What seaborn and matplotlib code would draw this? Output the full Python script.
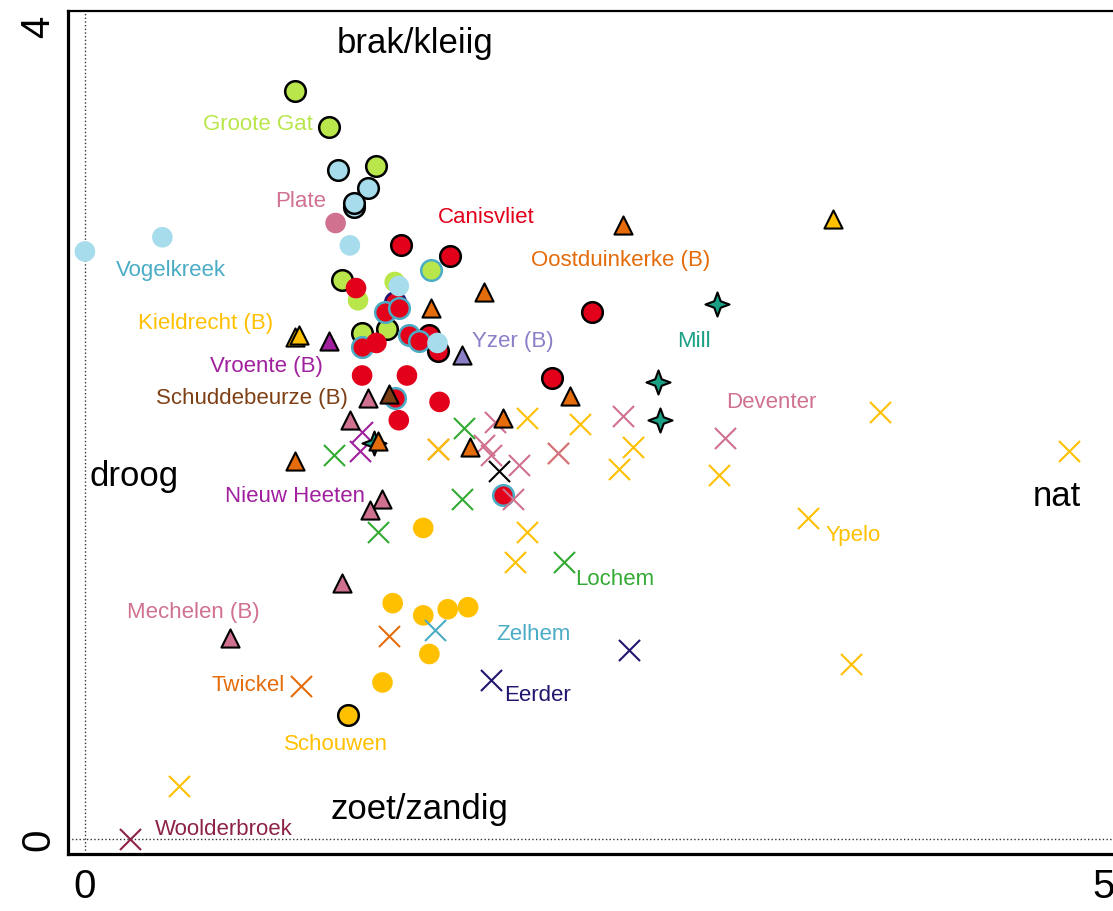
import matplotlib
matplotlib.use("Agg")
import matplotlib.pyplot as plt
from matplotlib.path import Path
import seaborn as sns
import pandas as pd

# --- data (x: droog -> nat, y: zoet/zandig -> brak/kleiig) ---
lime_plain_x = [1.34, 1.52]
lime_plain_y = [2.65, 2.74]
lime_black_x = [1.03, 1.20, 1.43, 1.26, 1.36, 1.48]
lime_black_y = [3.68, 3.50, 3.31, 2.75, 2.49, 2.51]
lime_blue_x = [1.70]
lime_blue_y = [2.80]

lblue_black_x = [1.24, 1.39, 1.32, 1.32]
lblue_black_y = [3.29, 3.20, 3.11, 3.13]
lblue_plain_x = [0.00, 0.38, 1.30, 1.54, 1.73]
lblue_plain_y = [2.89, 2.96, 2.92, 2.72, 2.44]

plate_x = [1.23]
plate_y = [3.03]

red_plain_x = [1.33, 1.43, 1.36, 1.58, 1.74, 1.54]
red_plain_y = [2.71, 2.44, 2.28, 2.28, 2.15, 2.06]
red_blue_x = [1.47, 1.54, 1.36, 1.59, 1.64, 1.52, 2.05]
red_blue_y = [2.59, 2.61, 2.42, 2.48, 2.45, 2.17, 1.69]
red_black_x = [1.55, 1.79, 2.49, 2.29, 1.69, 1.73]
red_black_y = [2.92, 2.87, 2.59, 2.27, 2.48, 2.40]
red_navy_x = [1.52]
red_navy_y = [2.64]

schouwen_plain_x = [1.66, 1.51, 1.66, 1.78, 1.88, 1.69, 1.46]
schouwen_plain_y = [1.53, 1.16, 1.10, 1.13, 1.14, 0.91, 0.77]
schouwen_black_x = [1.29]
schouwen_black_y = [0.61]

pink_x_x = [1.73, 2.64, 3.14, 2.01, 1.96, 1.99, 2.13, 2.10]
pink_x_y = [1.92, 2.08, 1.97, 2.05, 1.94, 1.89, 1.84, 1.67]
yellow_x_x = [3.90, 4.83, 3.55, 3.76, 0.46, 2.17, 2.43, 1.73, 2.32, 2.69, 2.62, 3.11, 2.17, 2.11]
yellow_x_y = [2.10, 1.91, 1.58, 0.86, 0.26, 2.07, 2.04, 1.92, 1.90, 1.93, 1.82, 1.79, 1.51, 1.36]
pink_x2_x = [2.32]
pink_x2_y = [1.90]
green_x_x = [1.86, 1.22, 1.85, 1.44, 2.35]
green_x_y = [2.02, 1.89, 1.67, 1.51, 1.36]
purple_x_x = [1.36, 1.35]
purple_x_y = [2.00, 1.91]
black_x_x = [2.03]
black_x_y = [1.81]
navy_x_x = [1.99, 2.67]
navy_x_y = [0.78, 0.93]
zelhem_x_x = [1.72]
zelhem_x_y = [1.03]
twickel_x_x = [1.06, 1.49]
twickel_x_y = [0.75, 1.00]
woolder_x_x = [0.22]
woolder_x_y = [0.00]

mill_x = [3.10, 2.81, 2.82, 1.42]
mill_y = [2.63, 2.25, 2.06, 1.95]

orange_tri_x = [2.64, 1.96, 1.70, 2.38, 2.05, 1.89, 1.44, 1.03]
orange_tri_y = [3.02, 2.69, 2.61, 2.18, 2.07, 1.93, 1.96, 1.86]
yellow_tri_x = [3.67, 1.03, 1.05]
yellow_tri_y = [3.05, 2.47, 2.48]
purple_tri_x = [1.20]
purple_tri_y = [2.45]
lavender_tri_x = [1.85]
lavender_tri_y = [2.38]
brown_tri_x = [1.49]
brown_tri_y = [2.19]
pink_tri_x = [1.39, 1.30, 1.46, 1.40, 1.26, 0.71]
pink_tri_y = [2.17, 2.06, 1.67, 1.62, 1.26, 0.99]

labels = ["Groote Gat", "Plate", "Canisvliet", "Vogelkreek", "Oostduinkerke (B)",
          "Kieldrecht (B)", "Mill", "Yzer (B)", "Vroente (B)", "Schuddebeurze (B)",
          "Deventer", "Nieuw Heeten", "Ypelo", "Lochem", "Mechelen (B)", "Zelhem",
          "Twickel", "Eerder", "Schouwen", "Woolderbroek"]
label_x = [0.85, 1.06, 1.97, 0.42, 2.63, 0.59, 2.99, 2.10, 0.89, 0.82,
           3.37, 1.03, 3.77, 2.60, 0.53, 2.20, 0.80, 2.22, 1.23, 0.68]
label_y = [3.52, 3.14, 3.06, 2.80, 2.85, 2.54, 2.45, 2.45, 2.33, 2.17,
           2.15, 1.69, 1.50, 1.28, 1.12, 1.01, 0.76, 0.71, 0.47, 0.05]

axis_words = ["brak/kleiig", "zoet/zandig", "droog", "nat"]
axis_word_x = [1.62, 1.64, 0.24, 4.77]
axis_word_y = [3.92, 0.15, 1.79, 1.69]

# --- colours ---
LIME = "#B9E64A"
LBLUE = "#A6DCEB"
BLUE_EDGE = "#4BACC6"
RED = "#E2001A"
YELLOW = "#FFC000"
ORANGE = "#E46C0A"
PINK = "#D0718F"
PURPLE = "#A0209E"
LAVENDER = "#8B7FC8"
BROWN = "#7F3F14"
TEAL = "#19A085"
GREEN = "#33AA33"
NAVY = "#20166E"
MAROON = "#8E2346"

label_colors = [LIME, PINK, RED, BLUE_EDGE, ORANGE, YELLOW, TEAL, LAVENDER, PURPLE, BROWN,
                PINK, PURPLE, YELLOW, GREEN, PINK, BLUE_EDGE, ORANGE, NAVY, YELLOW, MAROON]

sns.set_style("white")
plt.rcParams["font.family"] = ["Liberation Sans", "DejaVu Sans"]

fig = plt.figure(figsize=(11.13, 9.12), dpi=100)
ax = fig.add_axes([68 / 1113, 57 / 912, 1048 / 1113, 843 / 912])

star4 = Path.unit_regular_star(4, 0.38)

CIRC = 220
TRI = 170
XS = 230


def pts(xs, ys, color, marker="o", edge="none", s=CIRC, lw=1.8):
    df = pd.DataFrame({"x": xs, "y": ys})
    if marker == "x":
        sns.scatterplot(data=df, x="x", y="y", marker="x", color=color, s=s,
                        linewidth=lw, ax=ax, zorder=3)
    else:
        sns.scatterplot(data=df, x="x", y="y", marker=marker, color=color, s=s,
                        edgecolor=edge, linewidth=lw, ax=ax, zorder=3)


# circles
pts(lime_plain_x, lime_plain_y, LIME)
pts(lime_black_x, lime_black_y, LIME, edge="black")
pts(lime_blue_x, lime_blue_y, LIME, edge=BLUE_EDGE)
pts(lblue_black_x, lblue_black_y, LBLUE, edge="black")
pts(plate_x, plate_y, PINK)
pts(red_navy_x, red_navy_y, RED, edge=NAVY)
pts(red_black_x, red_black_y, RED, edge="black")
pts(red_blue_x, red_blue_y, RED, edge=BLUE_EDGE)
pts(red_plain_x, red_plain_y, RED)
pts(lblue_plain_x, lblue_plain_y, LBLUE)
pts(schouwen_plain_x, schouwen_plain_y, YELLOW)
pts(schouwen_black_x, schouwen_black_y, YELLOW, edge="black")

# crosses
pts(pink_x_x, pink_x_y, PINK, marker="x", s=XS, lw=1.5)
pts(yellow_x_x, yellow_x_y, YELLOW, marker="x", s=XS, lw=1.5)
pts(pink_x2_x, pink_x2_y, PINK, marker="x", s=XS, lw=1.5)
pts(green_x_x, green_x_y, GREEN, marker="x", s=XS, lw=1.5)
pts(purple_x_x, purple_x_y, PURPLE, marker="x", s=XS, lw=1.5)
pts(black_x_x, black_x_y, "black", marker="x", s=XS, lw=1.5)
pts(navy_x_x, navy_x_y, NAVY, marker="x", s=XS, lw=1.5)
pts(zelhem_x_x, zelhem_x_y, BLUE_EDGE, marker="x", s=XS, lw=1.5)
pts(twickel_x_x, twickel_x_y, ORANGE, marker="x", s=XS, lw=1.5)
pts(woolder_x_x, woolder_x_y, MAROON, marker="x", s=XS, lw=1.5)

# stars + triangles
pts(mill_x, mill_y, TEAL, marker=star4, edge="black", s=300, lw=1.5)
pts(orange_tri_x, orange_tri_y, ORANGE, marker="^", edge="black", s=TRI, lw=1.5)
pts(yellow_tri_x, yellow_tri_y, YELLOW, marker="^", edge="black", s=TRI, lw=1.5)
pts(purple_tri_x, purple_tri_y, PURPLE, marker="^", edge="black", s=TRI, lw=1.5)
pts(lavender_tri_x, lavender_tri_y, LAVENDER, marker="^", edge="black", s=TRI, lw=1.5)
pts(brown_tri_x, brown_tri_y, BROWN, marker="^", edge="black", s=TRI, lw=1.5)
pts(pink_tri_x, pink_tri_y, PINK, marker="^", edge="black", s=TRI, lw=1.5)

# site names
for t, x, y, c in zip(labels, label_x, label_y, label_colors):
    ax.text(x, y, t, color=c, fontsize=16, ha="center", va="center", zorder=4)

for t, x, y in zip(axis_words, axis_word_x, axis_word_y):
    ax.text(x, y, t, color="black", fontsize=25, ha="center", va="center", zorder=4)

# dotted zero lines
ax.axhline(0, color="#333333", ls=":", lw=1.0, zorder=1)
ax.axvline(0, color="#333333", ls=":", lw=1.0, zorder=1)

ax.set_xlim(-0.083, 5.059)
ax.set_ylim(-0.074, 4.073)
ax.set_xticks([0, 1, 2, 3, 4, 5])
ax.set_xticklabels(["0", "", "", "", "", "5"], fontsize=29)
ax.set_yticks([0, 1, 2, 3, 4])
ax.set_yticklabels(["0", "", "", "", "4"], fontsize=29, rotation=90, va="center")
ax.tick_params(axis="x", direction="inout", length=9, width=2, pad=5, colors="black")
ax.tick_params(axis="y", direction="inout", length=9, width=2, pad=3, colors="black")
ax.set_xlabel("")
ax.set_ylabel("")
for side in ["left", "bottom"]:
    ax.spines[side].set_linewidth(2.3)
ax.spines["top"].set_linewidth(1.6)
ax.spines["right"].set_visible(False)
for sp in ax.spines.values():
    sp.set_color("black")

fig.savefig("out.png", dpi=100)
